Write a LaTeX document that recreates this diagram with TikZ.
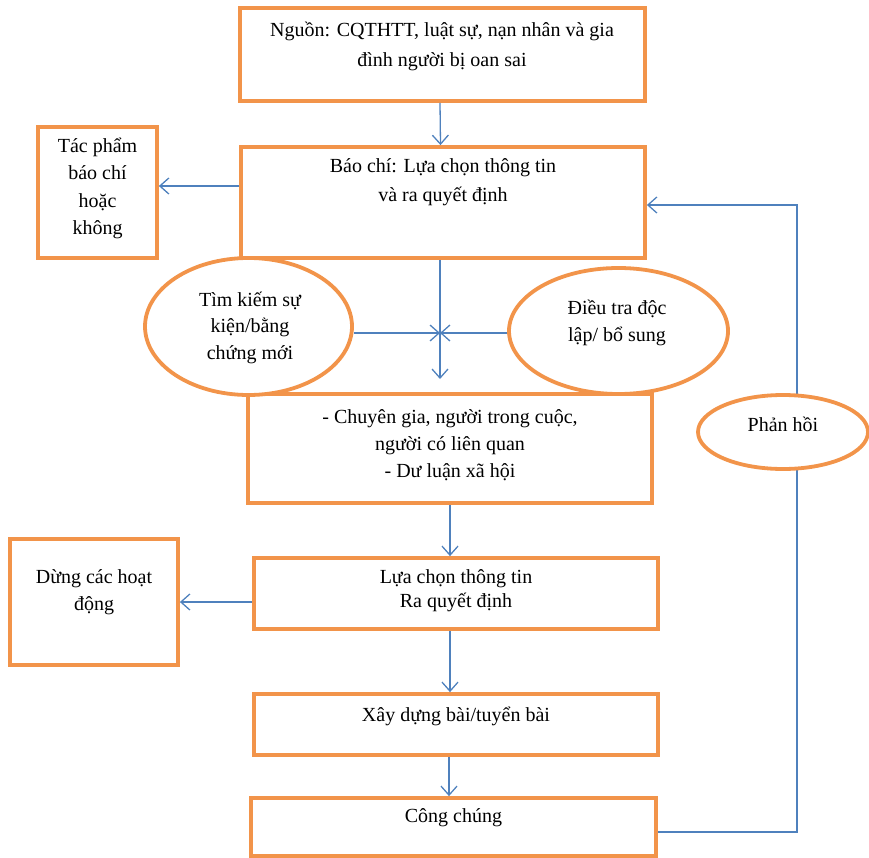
\documentclass[tikz,border=0pt]{standalone}
\usepackage{fontspec}
\setmainfont{Liberation Serif}
\usetikzlibrary{arrows.meta,shapes.geometric,backgrounds}
\definecolor{boxorange}{RGB}{242,148,74}
\definecolor{lineblue}{RGB}{79,129,189}
\tikzset{
  box/.style={draw=boxorange, line width=3.8pt, fill=white, rectangle, inner sep=0pt},
  oval/.style={draw=boxorange, line width=3.8pt, fill=white, ellipse, inner sep=0pt},
  txt/.style={align=center, inner sep=0pt, font=\fontsize{20}{27}\selectfont},
  arr/.style={draw=lineblue, line width=1.3pt, -{Straight Barb[length=9pt,width=16pt]}},
  conn/.style={draw=lineblue, line width=1.3pt}
}
\begin{document}
\begin{tikzpicture}[x=1pt,y=-1pt]
\useasboundingbox (0,0) rectangle (869,858);

% boxes
\node[box, minimum width=405pt, minimum height=93pt]  (nguon)   at (442.5,54.5) {};
\node[box, minimum width=404pt, minimum height=111pt] (baochi)  at (443,202.5) {};
\node[box, minimum width=119pt, minimum height=131pt] (tacpham) at (97.5,192.5) {};
\node[box, minimum width=404pt, minimum height=109pt] (chuyen)  at (450,448.5) {};
\node[oval, minimum width=207pt, minimum height=137pt] (tk)     at (248.5,326.5) {};
\node[oval, minimum width=219pt, minimum height=126pt] (dt)     at (618.5,331) {};
\node[box, minimum width=168pt, minimum height=126pt] (dung)    at (94,602) {};
\node[box, minimum width=404pt, minimum height=71pt]  (lua)     at (456,593.5) {};
\node[box, minimum width=404pt, minimum height=61pt]  (xay)     at (456,724.5) {};
\node[box, minimum width=405pt, minimum height=58pt]  (cong)    at (453.5,827) {};
\node[oval, minimum width=170pt, minimum height=74pt] (phanhoi) at (783,432) {};

% texts
\node[txt, font=\fontsize{20}{30}\selectfont] (nguon-t) at (442,46)
  {\strut Nguồn: CQTHTT, luật sự, nạn nhân và gia\\\strut đình người bị oan sai};
\node[txt, font=\fontsize{20}{29}\selectfont] (baochi-t) at (443,181.5)
  {\strut Báo chí: Lựa chọn thông tin\\\strut và ra quyết định};
\node[txt, font=\fontsize{20}{27.3}\selectfont] (tacpham-t) at (97.5,188)
  {\strut Tác phẩm\\\strut báo chí\\\strut hoặc\\\strut không};
\node[txt, font=\fontsize{20}{26.5}\selectfont] (tk-t) at (250,327.5)
  {\strut Tìm kiếm sự\\\strut kiện/bằng\\\strut chứng mới};
\node[txt] (dt-t) at (617,322.5)
  {\strut Điều tra độc\\\strut lập/ bổ sung};
\node[txt] (chuyen-t) at (450,445)
  {\strut - Chuyên gia, người trong cuộc,\\\strut người có liên quan\\\strut - Dư luận xã hội};
\node[txt] (phanhoi-t) at (783,426) {\strut Phản hồi};
\node[txt] (dung-t) at (94,591.5)
  {\strut Dừng các hoạt\\\strut động};
\node[txt, font=\fontsize{20}{24}\selectfont] (lua-t) at (456,590.5)
  {\strut Lựa chọn thông tin\\\strut Ra quyết định};
\node[txt] (xay-t) at (456,716) {\strut Xây dựng bài/tuyển bài};
\node[txt] (cong-t) at (453.5,817) {\strut Công chúng};

% helper coordinates
\coordinate (j)  at (440,333);
\coordinate (jt) at (440,379);
\coordinate (a1) at (0,186);
\coordinate (fb1) at (797,832);
\coordinate (fb2) at (797,205);

% connectors
\draw[arr] ([xshift=-2.5pt]nguon.south) -- ([xshift=-2.5pt]baochi.north);
\draw[arr] (baochi.west |- a1) -- (tacpham.east |- a1);
\draw[conn] ([xshift=-3pt]baochi.south) -- (j);
\draw[arr] (j) -- (jt);
\draw[arr] (tk.east |- j) -- (j);
\draw[arr] (dt.west |- j) -- (j);
\draw[arr] (chuyen.south) -- (chuyen.south |- lua.north);
\draw[arr] (lua.west |- dung.east) -- (dung.east);
\draw[arr] ([xshift=-6pt]lua.south) -- ([xshift=-6pt]xay.north);
\draw[arr] ([xshift=-7pt]xay.south) -- ([xshift=-4.5pt]cong.north);
\begin{scope}[on background layer]
\draw[arr] (cong.east |- fb1) -- (fb1) -- (fb2) -- (baochi.east |- fb2);
\end{scope}
\end{tikzpicture}
\end{document}
